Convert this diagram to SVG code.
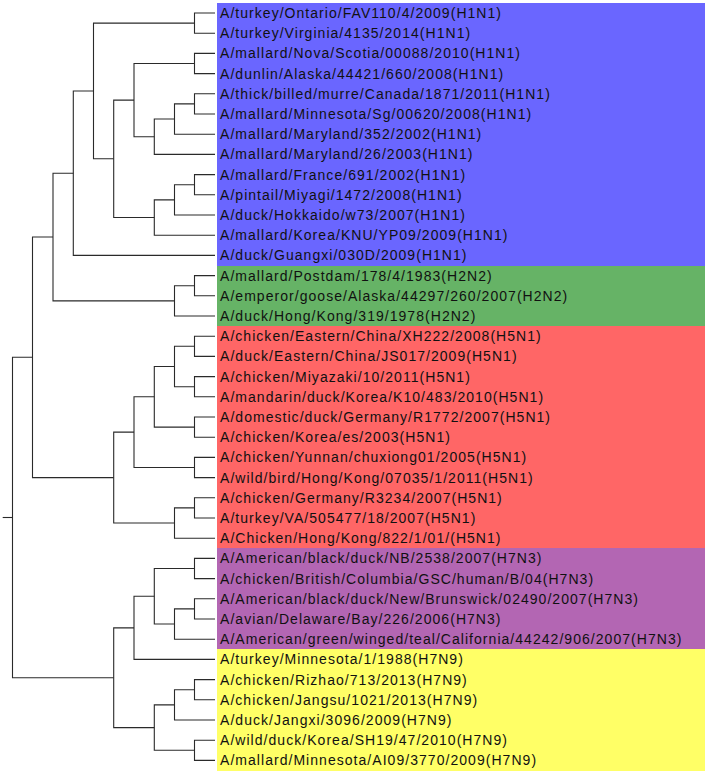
<svg xmlns="http://www.w3.org/2000/svg" width="708" height="774" viewBox="0 0 708 774">
<style>
.t{font-family:"Liberation Sans",Arial,sans-serif;font-size:14px;letter-spacing:1.04px;fill:#111}
rect{shape-rendering:crispEdges}
.bl{fill:#6a66ff}.gr{fill:#66b366}.rd{fill:#ff6666}.pu{fill:#b366b3}.ye{fill:#ffff66}
.e{fill:none;stroke:#2a2a2a;stroke-width:1.1}
</style>
<rect width="708" height="774" fill="#fff"/>
<g id="leaves">
<g id="n0"><rect class="bl" x="217" y="3" width="488" height="20.6"/><text class="t" x="220" y="18">A/turkey/Ontario/FAV110/4/2009(H1N1)</text></g>
<g id="n1"><rect class="bl" x="217" y="23.1" width="488" height="20.6"/><text class="t" x="220" y="38.2">A/turkey/Virginia/4135/2014(H1N1)</text></g>
<g id="n2"><rect class="bl" x="217" y="43.3" width="488" height="20.6"/><text class="t" x="220" y="58.4">A/mallard/Nova/Scotia/00088/2010(H1N1)</text></g>
<g id="n3"><rect class="bl" x="217" y="63.5" width="488" height="20.6"/><text class="t" x="220" y="78.6">A/dunlin/Alaska/44421/660/2008(H1N1)</text></g>
<g id="n4"><rect class="bl" x="217" y="83.7" width="488" height="20.6"/><text class="t" x="220" y="98.8">A/thick/billed/murre/Canada/1871/2011(H1N1)</text></g>
<g id="n5"><rect class="bl" x="217" y="103.9" width="488" height="20.6"/><text class="t" x="220" y="119">A/mallard/Minnesota/Sg/00620/2008(H1N1)</text></g>
<g id="n6"><rect class="bl" x="217" y="124.1" width="488" height="20.6"/><text class="t" x="220" y="139.2">A/mallard/Maryland/352/2002(H1N1)</text></g>
<g id="n7"><rect class="bl" x="217" y="144.3" width="488" height="20.6"/><text class="t" x="220" y="159.4">A/mallard/Maryland/26/2003(H1N1)</text></g>
<g id="n8"><rect class="bl" x="217" y="164.5" width="488" height="20.6"/><text class="t" x="220" y="179.6">A/mallard/France/691/2002(H1N1)</text></g>
<g id="n9"><rect class="bl" x="217" y="184.7" width="488" height="20.6"/><text class="t" x="220" y="199.8">A/pintail/Miyagi/1472/2008(H1N1)</text></g>
<g id="n10"><rect class="bl" x="217" y="204.9" width="488" height="20.6"/><text class="t" x="220" y="220">A/duck/Hokkaido/w73/2007(H1N1)</text></g>
<g id="n11"><rect class="bl" x="217" y="225.1" width="488" height="20.6"/><text class="t" x="220" y="240.2">A/mallard/Korea/KNU/YP09/2009(H1N1)</text></g>
<g id="n12"><rect class="bl" x="217" y="245.3" width="488" height="20.2"/><text class="t" x="220" y="260.4">A/duck/Guangxi/030D/2009(H1N1)</text></g>
<g id="n13"><rect class="gr" x="217" y="265.5" width="488" height="20.6"/><text class="t" x="220" y="280.6">A/mallard/Postdam/178/4/1983(H2N2)</text></g>
<g id="n14"><rect class="gr" x="217" y="285.7" width="488" height="20.6"/><text class="t" x="220" y="300.8">A/emperor/goose/Alaska/44297/260/2007(H2N2)</text></g>
<g id="n15"><rect class="gr" x="217" y="305.9" width="488" height="20.2"/><text class="t" x="220" y="321">A/duck/Hong/Kong/319/1978(H2N2)</text></g>
<g id="n16"><rect class="rd" x="217" y="326.1" width="488" height="20.6"/><text class="t" x="220" y="341.2">A/chicken/Eastern/China/XH222/2008(H5N1)</text></g>
<g id="n17"><rect class="rd" x="217" y="346.3" width="488" height="20.6"/><text class="t" x="220" y="361.4">A/duck/Eastern/China/JS017/2009(H5N1)</text></g>
<g id="n18"><rect class="rd" x="217" y="366.5" width="488" height="20.6"/><text class="t" x="220" y="381.6">A/chicken/Miyazaki/10/2011(H5N1)</text></g>
<g id="n19"><rect class="rd" x="217" y="386.7" width="488" height="20.6"/><text class="t" x="220" y="401.8">A/mandarin/duck/Korea/K10/483/2010(H5N1)</text></g>
<g id="n20"><rect class="rd" x="217" y="406.9" width="488" height="20.6"/><text class="t" x="220" y="422">A/domestic/duck/Germany/R1772/2007(H5N1)</text></g>
<g id="n21"><rect class="rd" x="217" y="427.1" width="488" height="20.6"/><text class="t" x="220" y="442.2">A/chicken/Korea/es/2003(H5N1)</text></g>
<g id="n22"><rect class="rd" x="217" y="447.3" width="488" height="20.6"/><text class="t" x="220" y="462.4">A/chicken/Yunnan/chuxiong01/2005(H5N1)</text></g>
<g id="n23"><rect class="rd" x="217" y="467.5" width="488" height="20.6"/><text class="t" x="220" y="482.6">A/wild/bird/Hong/Kong/07035/1/2011(H5N1)</text></g>
<g id="n24"><rect class="rd" x="217" y="487.7" width="488" height="20.6"/><text class="t" x="220" y="502.8">A/chicken/Germany/R3234/2007(H5N1)</text></g>
<g id="n25"><rect class="rd" x="217" y="507.9" width="488" height="20.6"/><text class="t" x="220" y="523">A/turkey/VA/505477/18/2007(H5N1)</text></g>
<g id="n26"><rect class="rd" x="217" y="528.1" width="488" height="20.2"/><text class="t" x="220" y="543.2">A/Chicken/Hong/Kong/822/1/01/(H5N1)</text></g>
<g id="n27"><rect class="pu" x="217" y="548.3" width="488" height="20.6"/><text class="t" x="220" y="563.4">A/American/black/duck/NB/2538/2007(H7N3)</text></g>
<g id="n28"><rect class="pu" x="217" y="568.5" width="488" height="20.6"/><text class="t" x="220" y="583.6">A/chicken/British/Columbia/GSC/human/B/04(H7N3)</text></g>
<g id="n29"><rect class="pu" x="217" y="588.7" width="488" height="20.6"/><text class="t" x="220" y="603.8">A/American/black/duck/New/Brunswick/02490/2007(H7N3)</text></g>
<g id="n30"><rect class="pu" x="217" y="608.9" width="488" height="20.6"/><text class="t" x="220" y="624">A/avian/Delaware/Bay/226/2006(H7N3)</text></g>
<g id="n31"><rect class="pu" x="217" y="629.1" width="488" height="20.2"/><text class="t" x="220" y="644.2">A/American/green/winged/teal/California/44242/906/2007(H7N3)</text></g>
<g id="n32"><rect class="ye" x="217" y="649.3" width="488" height="20.6"/><text class="t" x="220" y="664.4">A/turkey/Minnesota/1/1988(H7N9)</text></g>
<g id="n33"><rect class="ye" x="217" y="669.5" width="488" height="20.6"/><text class="t" x="220" y="684.6">A/chicken/Rizhao/713/2013(H7N9)</text></g>
<g id="n34"><rect class="ye" x="217" y="689.7" width="488" height="20.6"/><text class="t" x="220" y="704.8">A/chicken/Jangsu/1021/2013(H7N9)</text></g>
<g id="n35"><rect class="ye" x="217" y="709.9" width="488" height="20.6"/><text class="t" x="220" y="725">A/duck/Jangxi/3096/2009(H7N9)</text></g>
<g id="n36"><rect class="ye" x="217" y="730.1" width="488" height="20.6"/><text class="t" x="220" y="745.2">A/wild/duck/Korea/SH19/47/2010(H7N9)</text></g>
<g id="n37"><rect class="ye" x="217" y="750.3" width="488" height="20.2"/><text class="t" x="220" y="765.4">A/mallard/Minnesota/AI09/3770/2009(H7N9)</text></g>
</g>
<g id="connectors">
<path class="e" d="M215 13H194.5V33.2H215"/>
<path class="e" d="M215 53.4H194.5V73.6H215"/>
<path class="e" d="M215 93.8H194.5V114H215"/>
<path class="e" d="M194.5 103.9H174.5V134.2H215"/>
<path class="e" d="M174.5 119.05H154.3V154.4H215"/>
<path class="e" d="M194.5 63.5H134V136.7H154.3"/>
<path class="e" d="M215 174.6H194.5V194.8H215"/>
<path class="e" d="M194.5 184.7H174.5V215H215"/>
<path class="e" d="M174.5 199.85H154.3V235.2H215"/>
<path class="e" d="M134 100.1H113.7V217.5H154.3"/>
<path class="e" d="M194.5 23.1H93.5V158.8H113.7"/>
<path class="e" d="M93.5 90.95H73.3V255.4H215"/>
<path class="e" d="M215 275.6H194.5V295.8H215"/>
<path class="e" d="M194.5 285.7H174.5V316H215"/>
<path class="e" d="M73.3 173.2H53V300.85H174.5"/>
<path class="e" d="M215 336.2H194.5V356.4H215"/>
<path class="e" d="M215 376.6H194.5V396.8H215"/>
<path class="e" d="M194.5 346.3H174.5V386.7H194.5"/>
<path class="e" d="M215 417H194.5V437.2H215"/>
<path class="e" d="M174.5 366.5H154.3V427.1H194.5"/>
<path class="e" d="M215 457.4H194.5V477.6H215"/>
<path class="e" d="M154.3 396.8H134V467.5H194.5"/>
<path class="e" d="M215 497.8H194.5V518H215"/>
<path class="e" d="M194.5 507.9H174.5V538.2H215"/>
<path class="e" d="M134 432.15H113.7V523.05H174.5"/>
<path class="e" d="M53 237H32.5V477.6H113.7"/>
<path class="e" d="M215 558.4H194.5V578.6H215"/>
<path class="e" d="M215 598.8H194.5V619H215"/>
<path class="e" d="M194.5 608.9H174.5V639.2H215"/>
<path class="e" d="M194.5 568.5H154.3V624.05H174.5"/>
<path class="e" d="M154.3 596.3H134V659.4H215"/>
<path class="e" d="M215 679.6H194.5V699.8H215"/>
<path class="e" d="M194.5 689.7H174.5V720H215"/>
<path class="e" d="M215 740.2H194.5V760.4H215"/>
<path class="e" d="M174.5 704.85H154.3V750.3H194.5"/>
<path class="e" d="M134 627.85H113.7V727.6H154.3"/>
<path class="e" d="M32.5 357.3H12.5V677.7H113.7"/>
<path class="e" d="M2.7 517.5H12.5"/>
</g>
</svg>
